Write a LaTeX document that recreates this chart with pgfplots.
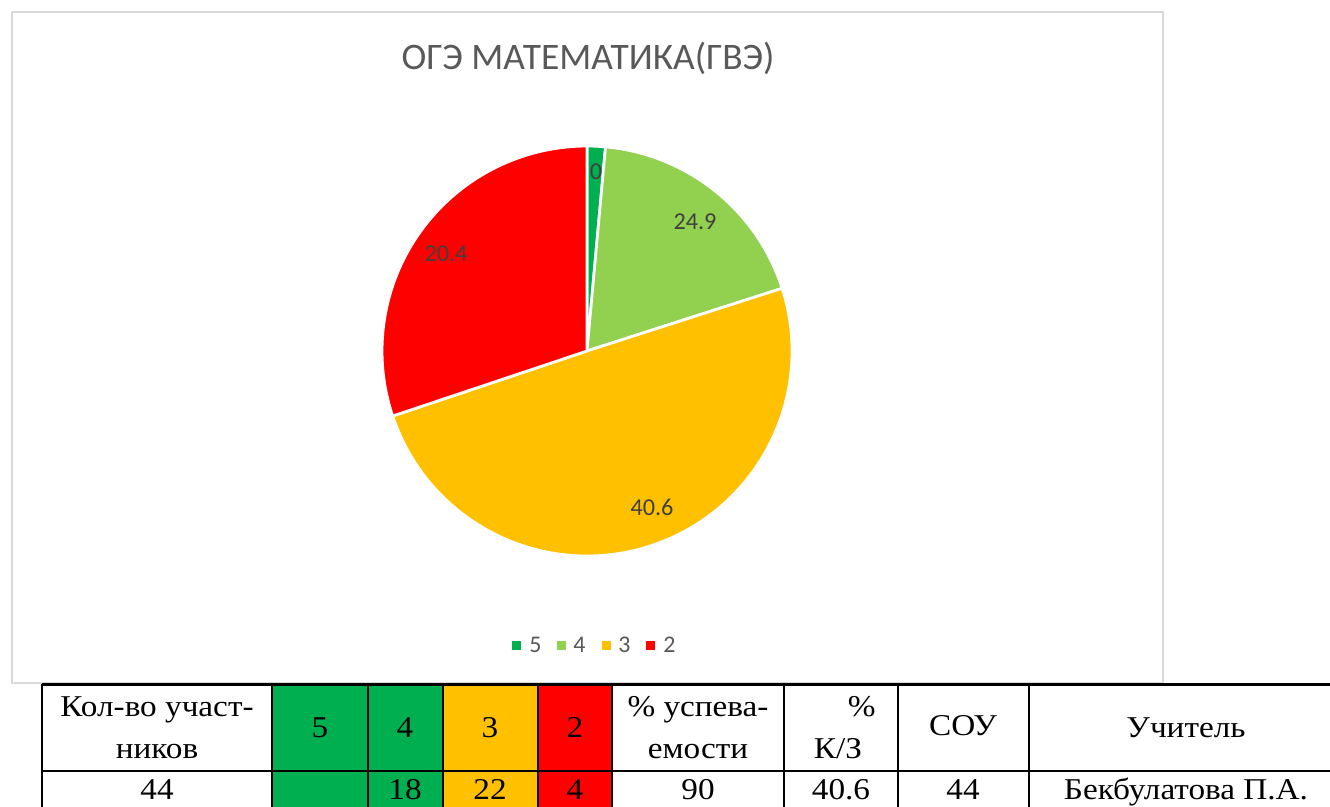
\documentclass[border=0pt]{standalone}
\usepackage{graphicx}
\usepackage{pgfplots}
\pgfplotsset{compat=1.18}
\usepackage{pgfplotstable}
\usepackage{fontspec}
\setmainfont{Liberation Serif}
\newfontfamily\calibri{Carlito}
\definecolor{cFive}{HTML}{00B050}
\definecolor{cFour}{HTML}{92D050}
\definecolor{cThree}{HTML}{FFC000}
\definecolor{cTwo}{HTML}{FF0000}
\definecolor{ttl}{HTML}{595959}
\definecolor{lbl}{HTML}{404040}
\definecolor{brd}{HTML}{D9D9D9}
\newcommand\tx[1]{\scalebox{1.1}[1]{#1}}

% share of each slice (as drawn) and its printed data label
\pgfplotstableread{
grade value label lx ly
5 1.44 0 596 172
4 18.61 24.9 695 222
3 49.81 40.6 652 507
2 30.14 20.4 446 254
}\piedata

\begin{document}
\begin{tikzpicture}
\pgfplotstablegetelem{0}{value}\of\piedata \let\vA\pgfplotsretval
\pgfplotstablegetelem{1}{value}\of\piedata \let\vB\pgfplotsretval
\pgfplotstablegetelem{2}{value}\of\piedata \let\vC\pgfplotsretval
\pgfplotstablegetelem{3}{value}\of\piedata \let\vD\pgfplotsretval
\pgfmathsetmacro\aA{90}
\pgfmathsetmacro\aB{\aA-3.6*\vA}
\pgfmathsetmacro\aC{\aB-3.6*\vB}
\pgfmathsetmacro\aD{\aC-3.6*\vC}
\pgfmathsetmacro\aE{\aD-3.6*\vD}
\def\R{4.1cm}
\begin{axis}[
  x=0.02cm, y=0.02cm,
  xmin=0, xmax=1330, ymin=0, ymax=807,
  y dir=reverse,
  hide axis, clip=false,
]
\fill[white] (axis cs:0,0) rectangle (axis cs:1330,807);
\coordinate (BL) at (axis cs:0,807);
\coordinate (TR) at (axis cs:1330,0);
% chart area border
\draw[brd, line width=0.04cm] (axis cs:12,12) rectangle (axis cs:1163,683);
% title
\node[text=ttl, font=\calibri\fontsize{21.3}{26}\selectfont] at (axis cs:588,58) {ОГЭ МАТЕМАТИКА(ГВЭ)};
% pie slices
\filldraw[fill=cFive, draw=white, line width=0.055cm, line join=round] (axis cs:587,351) -- ++(\aA:\R) arc[start angle=\aA, end angle=\aB, radius=\R] -- cycle;
\filldraw[fill=cFour, draw=white, line width=0.055cm, line join=round] (axis cs:587,351) -- ++(\aB:\R) arc[start angle=\aB, end angle=\aC, radius=\R] -- cycle;
\filldraw[fill=cThree, draw=white, line width=0.055cm, line join=round] (axis cs:587,351) -- ++(\aC:\R) arc[start angle=\aC, end angle=\aD, radius=\R] -- cycle;
\filldraw[fill=cTwo, draw=white, line width=0.055cm, line join=round] (axis cs:587,351) -- ++(\aD:\R) arc[start angle=\aD, end angle=\aE, radius=\R] -- cycle;
% data labels
\addplot[draw=none, mark=none, point meta=explicit symbolic,
  nodes near coords, nodes near coords align=center,
  every node near coord/.append style={anchor=center, text=lbl, font=\calibri\fontsize{13.8}{16}\selectfont}]
  table[x=lx, y=ly, meta=label] {\piedata};
% legend
\begin{scope}[font=\calibri\fontsize{13.6}{16}\selectfont, text=ttl]
\fill[cFive] (axis cs:512,641) rectangle (axis cs:521,650);
\node[anchor=west, inner sep=0pt] at (axis cs:529,645) {5};
\fill[cFour] (axis cs:557,641) rectangle (axis cs:566,650);
\node[anchor=west, inner sep=0pt] at (axis cs:573,645) {4};
\fill[cThree] (axis cs:602,641) rectangle (axis cs:611,650);
\node[anchor=west, inner sep=0pt] at (axis cs:618,645) {3};
\fill[cTwo] (axis cs:646,641) rectangle (axis cs:655,650);
\node[anchor=west, inner sep=0pt] at (axis cs:663,645) {2};
\end{scope}
% table fills
\fill[cFive] (axis cs:272,684.5) rectangle (axis cs:443,810);
\fill[cThree] (axis cs:443,684.5) rectangle (axis cs:538,810);
\fill[cTwo] (axis cs:538,684.5) rectangle (axis cs:612,810);
% table lines
\draw[black, line width=0.045cm] (axis cs:42,684.5) -- (axis cs:1340,684.5);
\draw[black, line width=0.045cm] (axis cs:42,770.7) -- (axis cs:1340,770.7);
\pgfplotsinvokeforeach{42,272,368,443,538,612,784,898,1029}{
  \draw[black, line width=0.045cm] (axis cs:#1,684.5) -- (axis cs:#1,812);
}
% table text
\begin{scope}[font=\fontsize{17.2}{20}\selectfont, inner sep=0pt, anchor=base]
\node at (axis cs:157,717) {\tx{Кол-во участ-}};
\node at (axis cs:157,759) {\tx{ников}};
\node at (axis cs:320,738) {\tx{5}};
\node at (axis cs:405,738) {\tx{4}};
\node at (axis cs:490,738) {\tx{3}};
\node at (axis cs:575,738) {\tx{2}};
\node at (axis cs:698,717) {\tx{\% успева-}};
\node at (axis cs:698,759) {\tx{емости}};
\node[anchor=base east] at (axis cs:876,717) {\tx{\%}};
\node at (axis cs:838,759) {\tx{К/З}};
\node at (axis cs:963,736) {\tx{СОУ}};
\node at (axis cs:1186,738) {\tx{Учитель}};
\node at (axis cs:157,800) {\tx{44}};
\node at (axis cs:405,800) {\tx{18}};
\node at (axis cs:490,800) {\tx{22}};
\node at (axis cs:575,800) {\tx{4}};
\node at (axis cs:698,800) {\tx{90}};
\node at (axis cs:841,800) {\tx{40.6}};
\node at (axis cs:963,800) {\tx{44}};
\node at (axis cs:1186,800) {\tx{Бекбулатова П.А.}};
\end{scope}
\end{axis}
\pgfresetboundingbox
\path[use as bounding box] (BL) rectangle (TR);
\end{tikzpicture}
\end{document}
